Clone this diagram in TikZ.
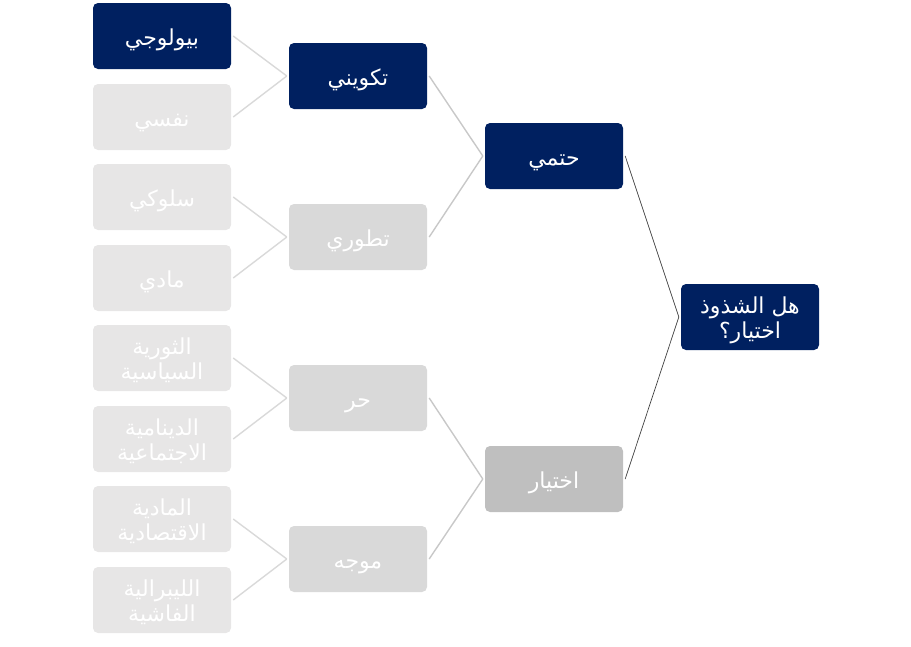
\documentclass[tikz,border=0pt]{standalone}
\usepackage{fontspec}
\newfontfamily\arabicfont[Script=Arabic]{DejaVu Sans}
\TeXXeTstate=1
\definecolor{navy}{RGB}{0,32,96}
\definecolor{leafgray}{RGB}{231,230,230}
\definecolor{midgray}{RGB}{217,217,217}
\definecolor{choicegray}{RGB}{191,191,191}
\definecolor{linelight}{RGB}{217,217,217}
\definecolor{linemid}{RGB}{200,200,200}
\definecolor{linedark}{RGB}{64,64,64}
\tikzset{
  box/.style={rounded corners=5pt, minimum width=138pt, minimum height=66pt,
    inner sep=0pt, text=white, align=center,
    font=\arabicfont\fontsize{22}{25}\selectfont},
  darkbox/.style={box, fill=navy},
  leafbox/.style={box, fill=leafgray},
  midbox/.style={box, fill=midgray},
  choicebox/.style={box, fill=choicegray},
  lnlight/.style={draw=linelight, line width=1.4pt},
  lnmid/.style={draw=linemid, line width=1.4pt},
  lndark/.style={draw=linedark, line width=0.7pt}
}
\newcommand{\ar}[1]{\rule[-2pt]{0pt}{22pt}\smash{\beginR #1\endR}}
\begin{document}
\begin{tikzpicture}[x=1pt,y=-1pt]
\useasboundingbox (0,0) rectangle (911,646);
% leaves
\node[darkbox] (l1) at (162,36) {\ar{بيولوجي}};
\node[leafbox] (l2) at (162,117) {\ar{نفسي}};
\node[leafbox] (l3) at (162,197) {\ar{سلوكي}};
\node[leafbox] (l4) at (162,278) {\ar{مادي}};
\node[leafbox] (l5) at (162,358) {\ar{الثورية}\\\ar{السياسية}};
\node[leafbox] (l6) at (162,439) {\ar{الدينامية}\\\ar{الاجتماعية}};
\node[leafbox] (l7) at (162,519) {\ar{المادية}\\\ar{الاقتصادية}};
\node[leafbox] (l8) at (162,600) {\ar{الليبرالية}\\\ar{الفاشية}};
% level 2
\node[darkbox] (m1) at (358,76) {\ar{تكويني}};
\node[midbox] (m2) at (358,237) {\ar{تطوري}};
\node[midbox] (m3) at (358,398) {\ar{حر}};
\node[midbox] (m4) at (358,559) {\ar{موجه}};
% level 3
\node[darkbox] (c1) at (554,156) {\ar{حتمي}};
\node[choicebox] (c2) at (554,479) {\ar{اختيار}};
% root
\node[darkbox] (r) at (750,317) {\ar{هل الشذوذ}\\\ar{اختيار؟}};
% connectors leaves -> level 2
\foreach \a/\b in {l1/m1,l2/m1,l3/m2,l4/m2,l5/m3,l6/m3,l7/m4,l8/m4}
  \path[lnlight] ([xshift=2pt]\a.east) -- ([xshift=-2pt]\b.west);
% level 2 -> level 3
\foreach \a/\b in {m1/c1,m2/c1,m3/c2,m4/c2}
  \path[lnmid] ([xshift=2pt]\a.east) -- ([xshift=-2pt]\b.west);
% level 3 -> root
\foreach \a in {c1,c2}
  \path[lndark] ([xshift=2pt]\a.east) -- ([xshift=-2pt]r.west);
\end{tikzpicture}
\end{document}
